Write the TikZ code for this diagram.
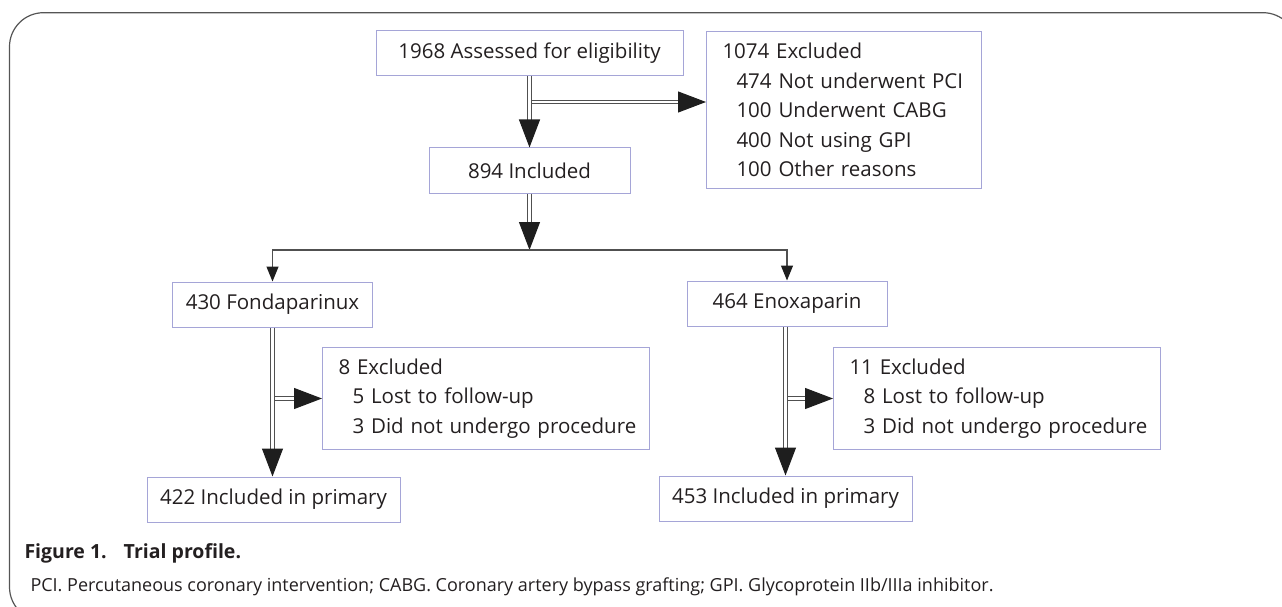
\documentclass[tikz,border=0pt]{standalone}
\usepackage{fontspec}
\setmainfont{Open Sans}
\usepackage{xcolor}
\usetikzlibrary{arrows.meta,calc,positioning}
\definecolor{boxline}{RGB}{165,165,215}
\definecolor{linkline}{RGB}{80,80,80}
\definecolor{headcol}{RGB}{30,30,30}
\definecolor{framecol}{RGB}{85,85,85}
\definecolor{textcol}{RGB}{35,31,32}
\newcommand{\boxfont}{\fontsize{20.5}{29.5}\selectfont}
\newcommand{\ind}[1]{\mbox{\hspace*{14pt}#1}}
\tikzset{%
	box/.style      = {draw=boxline, line width=1pt, rectangle, minimum height=45pt, inner sep=0pt, text=textcol, font=\boxfont, text centered},
	listbox/.style  = {box, anchor=north west, align=left, inner xsep=16pt, text width=#1},
	dblarrow/.style = {draw=linkline, double=white, double distance=2.4pt, line width=1.1pt, -{Triangle[length=28pt,width=21pt,color=headcol]}},
	arrow/.style    = {draw=linkline, line width=1.2pt, -{Triangle[length=15pt,width=12pt,color=headcol]}},
}

\begin{document}
\begin{tikzpicture}[x=1pt,y=-1pt]
	\clip (0,0) rectangle (1282,607);
	\draw[framecol, line width=1.2pt, rounded corners=34pt] (9.5,12.7) rectangle (1297,621);
	
	\node[box, minimum width=307pt] (assess) at (529.5,53) {1968 Assessed for eligibility};
	\node[listbox=243pt, minimum height=157pt] (excl) at (706,31) {1074 Excluded\\ \ind{474 Not underwent PCI}\\ \ind{100 Underwent CABG}\\ \ind{400 Not using GPI}\\ \ind{100 Other reasons}};
	\node[box, minimum width=201pt] (incl) at (529.5,170.5) {894 Included};
	\node[box, minimum width=200pt] (fonda) at (272.5,304.5) {430 Fondaparinux};
	\node[box, minimum width=200pt] (enox) at (787,303.5) {464 Enoxaparin};
	\node[listbox=295pt, minimum height=102pt] (exclF) at (322,347) {8 Excluded\\ \ind{5 Lost to follow-up}\\ \ind{3 Did not undergo procedure}};
	\node[listbox=295pt, minimum height=102pt] (exclE) at (833,347) {11 Excluded\\ \ind{8 Lost to follow-up}\\ \ind{3 Did not undergo procedure}};
	\node[box, minimum width=253pt] (primF) at (273.5,499.5) {422 Included in primary};
	\node[box, minimum width=253pt] (primE) at (785.5,498.5) {453 Included in primary};
	
	\coordinate (br) at (529.5,102);
	\coordinate (split) at (529.5,250);
	
	% side branches first, the main lines go over them
	\draw[dblarrow] (br) -- (br -| excl.west);
	\draw[dblarrow] (fonda.south |- exclF.west) -- (exclF.west);
	\draw[dblarrow] (primE.north |- exclE.west) -- (exclE.west);
	
	\draw[dblarrow] (assess) -- (incl);
	\draw[dblarrow] (incl) -- (split);
	\draw[arrow] (split) -| (fonda);
	\draw[arrow] (split) -| (enox);
	\draw[dblarrow] (fonda.south) -- (fonda.south |- primF.north);
	\draw[dblarrow] (primE.north |- enox.south) -- (primE.north);
	
	\node[anchor=west, text=textcol, font=\fontsize{19.5}{22}\selectfont\bfseries] (cap) at (21,553) {Figure 1.\hspace{17pt}Trial profile.};
	\node[anchor=west, text=textcol, font=\fontsize{18}{20}\selectfont] (note) at (27,587) {PCI. Percutaneous coronary intervention; CABG. Coronary artery bypass grafting; GPI. Glycoprotein IIb/IIIa inhibitor.};
\end{tikzpicture}
\end{document}
